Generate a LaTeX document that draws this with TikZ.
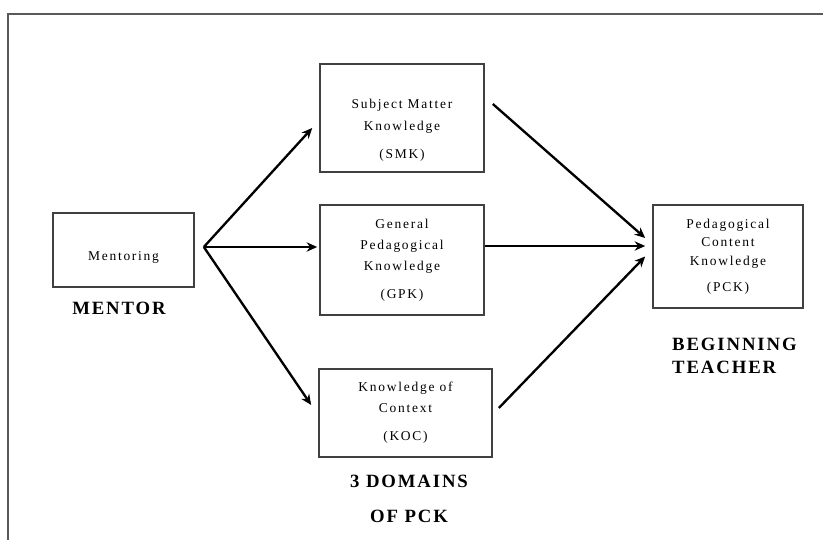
\documentclass[tikz,border=0pt]{standalone}
\usepackage{fontspec}
\setmainfont{Liberation Serif}
\newfontfamily\boxfont[LetterSpace=13]{Liberation Serif}
\newfontfamily\labfont[LetterSpace=10]{Liberation Serif}
\usetikzlibrary{calc,arrows.meta}
\tikzstyle{dombox} = [rectangle, draw=black!75, line width=1.4pt, text centered, align=center, font=\boxfont\fontsize{11.5}{18}\selectfont]
\tikzstyle{captext} = [inner sep=0pt, font=\labfont\bfseries\fontsize{16}{19}\selectfont]
\tikzstyle{arrow} = [line width=2pt,->,>={Stealth[length=9pt,width=8pt]}]

\begin{document}
\begin{tikzpicture}[x=0.03cm, y=-0.03cm]
      \useasboundingbox (0,0) rectangle (823,540);
      % outer frame, only top and left edges show
      \draw [black!65, line width=1.5pt] (8,540) |- (823,14);
      \node (ment)[dombox, minimum width=4.23cm, minimum height=2.22cm] at (123.5,250) {\rule{0pt}{21pt}Mentoring};
      \node (smk)[dombox, minimum width=4.92cm, minimum height=3.24cm] at (402,118) {\rule{0pt}{29pt}Subject Matter\\Knowledge\\[6pt](SMK)};
      \node (gpk)[dombox, minimum width=4.92cm, minimum height=3.3cm] at (402,260) {General\\Pedagogical\\Knowledge\\[6pt](GPK)};
      \node (koc)[dombox, minimum width=5.19cm, minimum height=2.64cm] at (405.5,413) {Knowledge of\\Context\\[6pt](KOC)};
      \node (pck)[dombox, minimum width=4.5cm, minimum height=3.09cm] at (728,256.5) {Pedagogical\\[-2pt]Content\\[-2pt]Knowledge\\[4pt](PCK)};
      \node (lab1)[captext] at (119,308) {MENTOR};
      \node (lab2)[captext, align=center, font=\labfont\bfseries\fontsize{16}{30}\selectfont] at (409,499) {3 DOMAINS\\OF PCK};
      \node (lab3)[captext, align=left, anchor=west] at (672,356) {BEGINNING\\TEACHER};
      \draw [arrow]($(ment.east)+(9,-3)$) -- ($(smk.west)+(-7,10)$);
      \draw [arrow]($(ment.east)+(9,-3)$) -- ($(gpk.west)+(-2,-13)$);
      \draw [arrow]($(ment.east)+(9,-3)$) -- ($(koc.west)+(-7,-8)$);
      \draw [arrow]($(smk.east)+(8,-14)$) -- ($(pck.west)+(-7,-18.5)$);
      \draw [arrow]($(gpk.east)+(0,-14)$) -- ($(pck.west)+(-7,-10.5)$);
      \draw [arrow]($(koc.east)+(6,-5)$) -- ($(pck.west)+(-7,0)$);
\end{tikzpicture}
\end{document}
